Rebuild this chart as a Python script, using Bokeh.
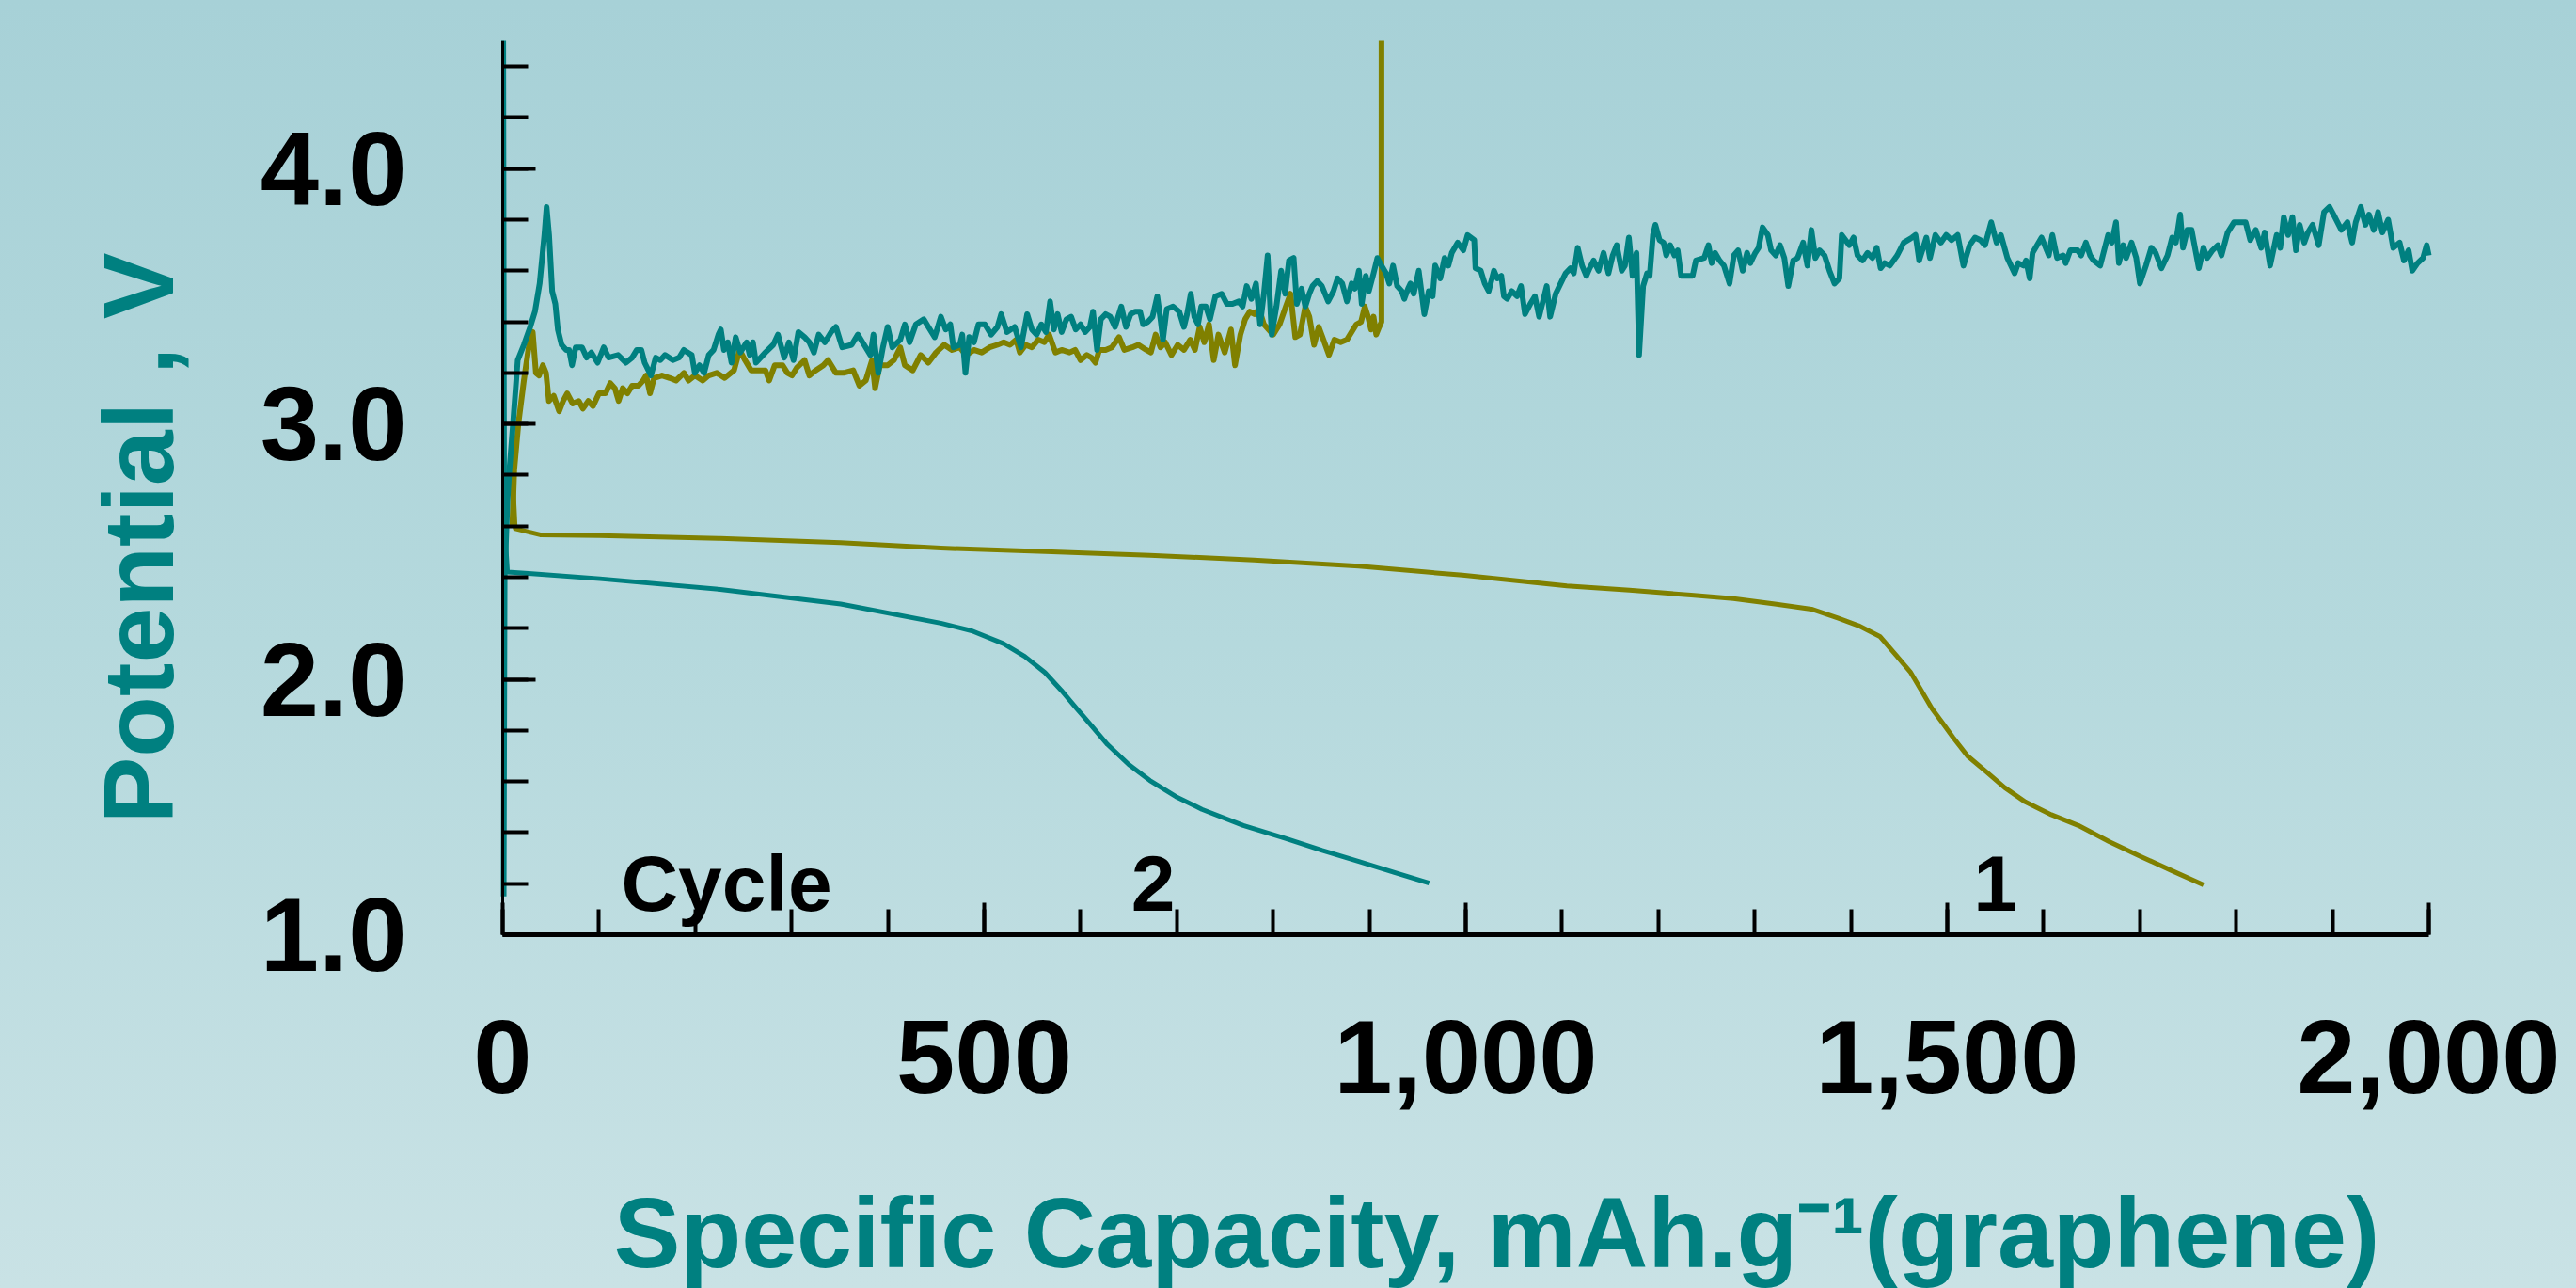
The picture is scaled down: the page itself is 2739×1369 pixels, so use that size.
from bokeh.plotting import figure
from bokeh.models import Range1d, SingleIntervalTicker, NumeralTickFormatter, Label
from bokeh.embed import file_html
from bokeh.resources import INLINE
from math import pi

# ---------------- data ----------------
# Cycle 1 (olive) discharge
c1_dis_x = [10, 13, 39, 101, 226, 351, 455, 563.5, 672, 780, 889, 996.6, 1105, 1170, 1234, 1278,
            1321, 1359, 1387, 1408, 1430, 1446, 1462, 1473, 1484, 1495, 1506, 1521, 1538, 1559.6,
            1581, 1608, 1636, 1668, 1700, 1733, 1766]
c1_dis_v = [2.82, 2.59, 2.566, 2.563, 2.552, 2.535, 2.514, 2.50, 2.486, 2.467, 2.443, 2.408, 2.366,
            2.349, 2.33, 2.316, 2.295, 2.275, 2.239, 2.21, 2.168, 2.098, 2.027, 1.957, 1.886, 1.83,
            1.773, 1.70, 1.646, 1.576, 1.52, 1.47, 1.428, 1.365, 1.308, 1.251, 1.195]

# Cycle 1 (olive) charge
c1_chg_x = [10, 12, 16.3, 22, 27, 31.2, 34.5, 37.8, 41.7, 45, 48, 53, 58.6, 62.8, 67, 72.6, 79, 83.3,
            88.9, 93.8, 100, 106.8, 111.7, 116.5, 120.4, 124.6, 129.6, 134.4, 141, 145.8, 149, 153,
            157.2, 165.4, 173.5, 180, 188.2, 193, 199.5, 207.7, 214, 222.3, 230.5, 240.2, 246, 251.6,
            258, 266.3, 272.8, 276.7, 282.5, 290.7, 295.6, 300.5, 305.3, 313.5, 318.4, 325, 333,
            337.9, 346, 354, 364, 370.4, 377, 383.5, 386.7, 391.6, 399.7, 406.3, 412.8, 417.6, 425.8,
            434, 442, 450, 458.5, 466.5, 474.6, 481, 489.3, 497.4, 505.6, 513.7, 520.2, 526.7, 533.2,
            537, 543, 549.5, 556, 562.5, 567.4, 574, 580.4, 588.6, 594.4, 600, 606.5, 611.3, 615.6,
            619.5, 626, 632.5, 640, 645.5, 653.7, 660, 668.3, 673, 678, 683, 687.9, 694.4, 700.9,
            707.4, 713.9, 718.8, 723.7, 728.5, 733.4, 738.3, 743.2, 749.7, 756.2, 760.4, 766, 770.9,
            775.7, 780.6, 785.5, 790.4, 800.1, 806.7, 813.2, 818, 823, 827.8, 833.4, 837.6, 842.5,
            847.3, 852.2, 858, 863.6, 870.1, 876.6, 881.5, 886.4, 891.3, 895.2, 898.5, 901.7, 904.3,
            907, 910.2, 912.5, 912.5]
c1_chg_v = [2.60, 2.82, 3.00, 3.17, 3.30, 3.36, 3.20, 3.19, 3.23, 3.20, 3.09, 3.11, 3.05, 3.09, 3.12,
            3.08, 3.09, 3.06, 3.09, 3.07, 3.12, 3.12, 3.16, 3.14, 3.09, 3.14, 3.12, 3.15, 3.15, 3.17,
            3.19, 3.12, 3.18, 3.19, 3.18, 3.17, 3.20, 3.17, 3.19, 3.17, 3.19, 3.20, 3.18, 3.21, 3.29,
            3.25, 3.21, 3.21, 3.21, 3.17, 3.23, 3.23, 3.20, 3.19, 3.22, 3.25, 3.19, 3.21, 3.23, 3.25,
            3.20, 3.20, 3.21, 3.15, 3.17, 3.25, 3.14, 3.23, 3.23, 3.25, 3.30, 3.23, 3.21, 3.27, 3.24,
            3.28, 3.31, 3.29, 3.30, 3.27, 3.29, 3.28, 3.30, 3.31, 3.32, 3.31, 3.33, 3.28, 3.31, 3.30,
            3.33, 3.32, 3.35, 3.28, 3.29, 3.28, 3.29, 3.25, 3.27, 3.26, 3.24, 3.29, 3.29, 3.30, 3.34,
            3.29, 3.30, 3.31, 3.29, 3.28, 3.35, 3.30, 3.32, 3.27, 3.31, 3.29, 3.33, 3.29, 3.38, 3.32,
            3.39, 3.25, 3.35, 3.28, 3.37, 3.23, 3.35, 3.41, 3.44, 3.43, 3.45, 3.39, 3.35, 3.39, 3.46,
            3.51, 3.34, 3.35, 3.46, 3.42, 3.31, 3.38, 3.33, 3.27, 3.33, 3.32, 3.33, 3.36, 3.39, 3.40,
            3.46, 3.42, 3.37, 3.42, 3.35, 3.38, 3.40, 4.70]

# Cycle 2 (teal) discharge
c2_dis_x = [1, 2, 5, 27, 101, 226, 351, 455, 487, 520, 542, 563, 580, 596, 612, 628, 650, 672, 699,
            726, 769, 812, 851, 889, 926, 962]
c2_dis_v = [4.60, 2.60, 2.42, 2.415, 2.394, 2.352, 2.295, 2.22, 2.19, 2.14, 2.09, 2.027, 1.957,
            1.886, 1.816, 1.745, 1.667, 1.604, 1.541, 1.491, 1.428, 1.378, 1.33, 1.287, 1.244, 1.202]

# Cycle 2 (teal) charge
c2_chg_x = [1, 2, 5, 7, 10.7, 15.6, 22, 28.6, 33.5, 38.4, 43.3, 45.6, 48.2, 51.4, 54.7, 57.3, 61.2,
            66, 69, 72, 75.8, 82.4, 87.2, 92, 98.6, 105, 110, 119.8, 128, 134.4, 139.3, 144, 147.4,
            154, 158.9, 163.7, 168.6, 176.8, 183.3, 188, 196.3, 199.5, 204.4, 209.2, 214, 219, 224,
            226.5, 229.8, 233.7, 237.6, 241.9, 246.7, 253.3, 256.5, 259.8, 263, 272.8, 280.9, 285.8,
            292.3, 297.2, 302, 307, 313.5, 318.4, 323.2, 328.1, 334.6, 341, 346, 352.5, 362.3, 368.8,
            375.3, 381.8, 385, 390, 394.8, 399.7, 404.6, 412.8, 417.6, 422.5, 429, 437.2, 442, 448.6,
            455, 460, 464.8, 468, 474.6, 477.2, 480.5, 484.4, 489.3, 494, 500.7, 507.2, 513.7, 517.6,
            523.5, 531.6, 538.1, 544.6, 549.5, 554.4, 559.3, 564.1, 568.4, 572.3, 576.2, 580.4, 585.3,
            590.2, 595, 600, 604.8, 609.7, 613, 617.2, 621.1, 626, 630.9, 635.8, 642.3, 647.2, 652,
            656.9, 661.8, 665, 670, 674.8, 679.7, 683, 685.6, 689.5, 696, 702.5, 707.4, 710.6, 714.5,
            718.1, 722, 725.3, 730.2, 734.4, 740, 746.5, 752, 757.8, 764.4, 768.3, 772.5, 777.4,
            782.2, 786.5, 790.4, 794.3, 798.5, 803.4, 808.3, 812.5, 816.4, 821.3, 824.6, 829.5, 833.4,
            837.6, 840.9, 845.7, 850.6, 857.1, 862.6, 866.9, 871.7, 876.6, 881.5, 884.8, 889, 892,
            896.2, 899.4, 904.3, 908.2, 912.5, 917.3, 920.6, 924.5, 928.8, 933.6, 936.2, 940.1, 942.6,
            946, 951.2, 957, 961.5, 965.6, 968.3, 973.5, 978, 982, 985.5, 991.6, 997.5, 1001.9,
            1008.8, 1010.1, 1015.6, 1019.7, 1023.8, 1029.3, 1032.7, 1036.9, 1039.6, 1043, 1047.8,
            1053.3, 1057.4, 1061.5, 1067, 1071.8, 1076.2, 1084.1, 1087.6, 1093.4, 1098.5, 1103.7,
            1108.8, 1112.2, 1116.3, 1120.8, 1125.2, 1128.7, 1132.8, 1137.9, 1143.1, 1148.2, 1152.6,
            1156.8, 1161.9, 1165.3, 1169.4, 1173.2, 1177.3, 1180, 1184.2, 1188.3, 1191, 1194.4,
            1196.9, 1201.3, 1205.4, 1208.2, 1212.3, 1216.7, 1220.1, 1223.6, 1230.4, 1235.6, 1239,
            1247.6, 1252, 1255.4, 1258.9, 1263.6, 1268.1, 1273.9, 1278.4, 1282.8, 1287.6, 1292.1,
            1295.5, 1300.6, 1304.1, 1308.2, 1313.7, 1317.1, 1321.9, 1326.3, 1330.8, 1334.9, 1340,
            1344.5, 1350.3, 1354.8, 1358.9, 1363, 1367.4, 1372.6, 1377.7, 1382.9, 1388, 1390.4,
            1398.3, 1402.7, 1406.8, 1412, 1417.1, 1422.3, 1426.7, 1430.8, 1435, 1440.4, 1448, 1454.8,
            1463.4, 1467, 1470.8, 1478.3, 1482, 1487.6, 1493.3, 1498.9, 1504.5, 1510.8, 1516.8,
            1523.2, 1528.8, 1534.4, 1539.2, 1545.6, 1551.2, 1555.7, 1562.4, 1569.9, 1573.6, 1579.2,
            1581.8, 1585.6, 1588.6, 1597.9, 1605.4, 1609.1, 1614, 1620.3, 1622.9, 1627.8, 1635.3,
            1639, 1643.9, 1648.3, 1652, 1658.8, 1667, 1670.8, 1675.2, 1678.2, 1682.7, 1685.7, 1691.3,
            1696.2, 1700, 1706.3, 1711.9, 1716.4, 1722.3, 1728.7, 1733.5, 1737.3, 1741.8, 1744.8,
            1749.2, 1753.7, 1761.2, 1766, 1769.8, 1775.4, 1781, 1784.7, 1791.1, 1797.8, 1804.6,
            1809.8, 1814.6, 1820.3, 1825.9, 1829.6, 1835.2, 1842, 1845.7, 1849.4, 1853.9, 1858.4,
            1862.1, 1865.9, 1870.7, 1874.5, 1879.3, 1885.7, 1891.2, 1896.8, 1902.5, 1909.2, 1915.5,
            1920.4, 1924.1, 1929.4, 1934.2, 1937.9, 1942.8, 1947.3, 1951.8, 1957.8, 1963, 1969.7,
            1974.2, 1979, 1982.8, 1988.4, 1994, 1997.8, 2000]
c2_chg_v = [1.15, 2.40, 2.70, 2.82, 3.00, 3.25, 3.31, 3.38, 3.44, 3.55, 3.74, 3.85, 3.74, 3.52, 3.47,
            3.37, 3.31, 3.29, 3.29, 3.23, 3.30, 3.30, 3.26, 3.28, 3.24, 3.30, 3.26, 3.27, 3.24, 3.26,
            3.29, 3.29, 3.24, 3.19, 3.26, 3.25, 3.27, 3.25, 3.26, 3.29, 3.27, 3.20, 3.23, 3.20, 3.27,
            3.29, 3.35, 3.37, 3.29, 3.32, 3.24, 3.34, 3.28, 3.32, 3.27, 3.32, 3.24, 3.28, 3.31, 3.35,
            3.26, 3.32, 3.25, 3.36, 3.34, 3.32, 3.28, 3.35, 3.32, 3.36, 3.38, 3.30, 3.31, 3.35, 3.31,
            3.27, 3.35, 3.20, 3.30, 3.38, 3.30, 3.33, 3.39, 3.32, 3.39, 3.41, 3.38, 3.34, 3.42, 3.37,
            3.39, 3.30, 3.31, 3.35, 3.20, 3.34, 3.32, 3.39, 3.39, 3.35, 3.38, 3.43, 3.36, 3.38, 3.30,
            3.43, 3.37, 3.35, 3.39, 3.36, 3.48, 3.37, 3.43, 3.36, 3.41, 3.42, 3.37, 3.39, 3.36, 3.38,
            3.44, 3.29, 3.41, 3.43, 3.42, 3.38, 3.46, 3.38, 3.43, 3.44, 3.44, 3.39, 3.40, 3.42, 3.50,
            3.41, 3.33, 3.45, 3.46, 3.44, 3.38, 3.43, 3.51, 3.42, 3.39, 3.46, 3.46, 3.41, 3.50, 3.51,
            3.47, 3.47, 3.48, 3.46, 3.54, 3.49, 3.55, 3.39, 3.51, 3.66, 3.35, 3.46, 3.60, 3.51, 3.64,
            3.65, 3.47, 3.53, 3.46, 3.51, 3.54, 3.56, 3.54, 3.48, 3.52, 3.57, 3.55, 3.48, 3.55, 3.53,
            3.60, 3.47, 3.58, 3.52, 3.59, 3.65, 3.62, 3.59, 3.55, 3.62, 3.54, 3.52, 3.49, 3.53, 3.55,
            3.51, 3.60, 3.43, 3.52, 3.50, 3.62, 3.57, 3.65, 3.62, 3.67, 3.71, 3.68, 3.74, 3.72, 3.61,
            3.60, 3.55, 3.52, 3.60, 3.57, 3.58, 3.50, 3.49, 3.52, 3.50, 3.54, 3.43, 3.47, 3.50, 3.42,
            3.54, 3.42, 3.51, 3.55, 3.59, 3.61, 3.59, 3.69, 3.62, 3.58, 3.61, 3.64, 3.60, 3.67, 3.59,
            3.66, 3.70, 3.60, 3.62, 3.73, 3.58, 3.67, 3.27, 3.54, 3.59, 3.58, 3.74, 3.78, 3.72, 3.71,
            3.66, 3.70, 3.66, 3.68, 3.58, 3.58, 3.58, 3.64, 3.65, 3.70, 3.63, 3.67, 3.64, 3.62, 3.55,
            3.66, 3.68, 3.60, 3.67, 3.63, 3.67, 3.69, 3.77, 3.74, 3.68, 3.66, 3.70, 3.65, 3.54, 3.64,
            3.65, 3.71, 3.62, 3.76, 3.65, 3.68, 3.66, 3.60, 3.55, 3.57, 3.74, 3.70, 3.73, 3.66, 3.64,
            3.67, 3.65, 3.69, 3.61, 3.63, 3.62, 3.66, 3.71, 3.73, 3.74, 3.64, 3.73, 3.65, 3.74, 3.71,
            3.74, 3.72, 3.74, 3.62, 3.70, 3.73, 3.72, 3.70, 3.79, 3.71, 3.74, 3.65, 3.59, 3.63, 3.62,
            3.64, 3.57, 3.67, 3.73, 3.66, 3.74, 3.65, 3.66, 3.63, 3.68, 3.68, 3.66, 3.71, 3.66, 3.64,
            3.62, 3.74, 3.71, 3.79, 3.63, 3.70, 3.65, 3.71, 3.65, 3.55, 3.62, 3.69, 3.67, 3.61, 3.66,
            3.73, 3.71, 3.82, 3.69, 3.76, 3.76, 3.61, 3.69, 3.65, 3.68, 3.70, 3.66, 3.75, 3.79, 3.79,
            3.79, 3.72, 3.76, 3.69, 3.75, 3.62, 3.74, 3.69, 3.81, 3.74, 3.81, 3.68, 3.78, 3.71, 3.75,
            3.78, 3.70, 3.83, 3.85, 3.81, 3.76, 3.79, 3.71, 3.79, 3.85, 3.78, 3.82, 3.76, 3.83, 3.75,
            3.80, 3.69, 3.71, 3.64, 3.68, 3.60, 3.63, 3.65, 3.70, 3.66]

x_title = "Specific Capacity, mAh.g\u207b\u00b9(graphene)"
y_title = "Potential , V"
cycle_word = "Cycle"
cycle_numbers = ["2", "1"]

TEAL = "#008080"
OLIVE = "#808000"
FONT = "Liberation Sans"

# ---------------- figure: frame covers the whole canvas, axes at fixed locations ----------------
W, H = 2739, 1369
AX_X, AX_Y, TOP = 534, 993, 43          # pixel position of the axes and of the 4.5 V line
PX_PER_UNIT = 2048 / 2000               # x scale
PX_PER_V = 950 / 3.5                    # y scale
x_start = -AX_X / PX_PER_UNIT
x_end = 2000 + (W - (AX_X + 2048)) / PX_PER_UNIT
y_end = 4.5
y_start = 4.5 - (H - TOP) / PX_PER_V

p = figure(width=W, height=H, x_range=Range1d(x_start, x_end), y_range=Range1d(y_start, y_end),
           output_backend="svg", toolbar_location=None,
           min_border_left=0, min_border_right=0, min_border_top=TOP, min_border_bottom=0)
p.background_fill_color = None
p.border_fill_color = None
p.outline_line_color = None
p.xgrid.visible = False
p.ygrid.visible = False
p.styles = {"background": "linear-gradient(180deg, #A7D1D7 0%, #B5D9DD 50%, #C9E2E5 100%)"}

xa = p.xaxis[0]
xa.fixed_location = 1.0
xa.bounds = (0, 2000)
xa.ticker = SingleIntervalTicker(interval=500, num_minor_ticks=5)
xa.formatter = NumeralTickFormatter(format="0,0")
xa.axis_line_width = 5
xa.axis_line_color = "black"
xa.major_tick_in = 34
xa.major_tick_out = 0
xa.minor_tick_in = 27
xa.minor_tick_out = 0
xa.major_tick_line_width = 4
xa.minor_tick_line_width = 4
xa.major_label_text_font = FONT
xa.major_label_text_font_style = "bold"
xa.major_label_text_font_size = "112px"
xa.major_label_text_color = "black"
xa.major_label_standoff = 91

ya = p.yaxis[0]
ya.fixed_location = 0
ya.bounds = (1.0, 4.5)
ya.ticker = SingleIntervalTicker(interval=1, num_minor_ticks=5)
ya.formatter = NumeralTickFormatter(format="0.0")
ya.axis_line_width = 3
ya.axis_line_color = "black"
ya.major_tick_in = 35
ya.major_tick_out = 0
ya.minor_tick_in = 27
ya.minor_tick_out = 0
ya.major_tick_line_width = 4
ya.minor_tick_line_width = 4
ya.major_label_text_font = FONT
ya.major_label_text_font_style = "bold"
ya.major_label_text_font_size = "112px"
ya.major_label_text_color = "black"
ya.major_label_standoff = 102

# ---------------- curves ----------------
p.line(c1_dis_x, c1_dis_v, line_color=OLIVE, line_width=5, line_join="round")
p.line(c1_chg_x, c1_chg_v, line_color=OLIVE, line_width=6, line_join="round")
p.line(c2_dis_x, c2_dis_v, line_color=TEAL, line_width=5, line_join="round")
p.line(c2_chg_x, c2_chg_v, line_color=TEAL, line_width=6, line_join="round")

# ---------------- texts ----------------
def px_to_x(px):
    return (px - AX_X) / PX_PER_UNIT

def py_to_v(py):
    return 1.0 + (AX_Y - py) / PX_PER_V

def lab(x, y, text, size, color, align="left", angle=0, baseline="alphabetic"):
    p.add_layout(Label(x=x, y=y, text=text, text_font=FONT, text_font_style="bold",
                       text_font_size=size, text_color=color, text_align=align,
                       text_baseline=baseline, angle=angle))

# axis titles (centre of the text box placed)
lab(px_to_x(1591), py_to_v(1346 - 0.3465 * 106), x_title, "106px", TEAL,
    align="center", baseline="middle")
lab(px_to_x(183 - 0.3465 * 106), py_to_v(571.5), y_title, "106px", TEAL,
    align="center", angle=pi / 2, baseline="middle")

# in-plot labels
lab(123, 1.20, cycle_word, "84px", "black")
lab(675.5, 1.20, cycle_numbers[0], "84px", "black", align="center")
lab(1550, 1.20, cycle_numbers[1], "84px", "black", align="center")

open("out.html", "w").write(file_html(p, INLINE))
